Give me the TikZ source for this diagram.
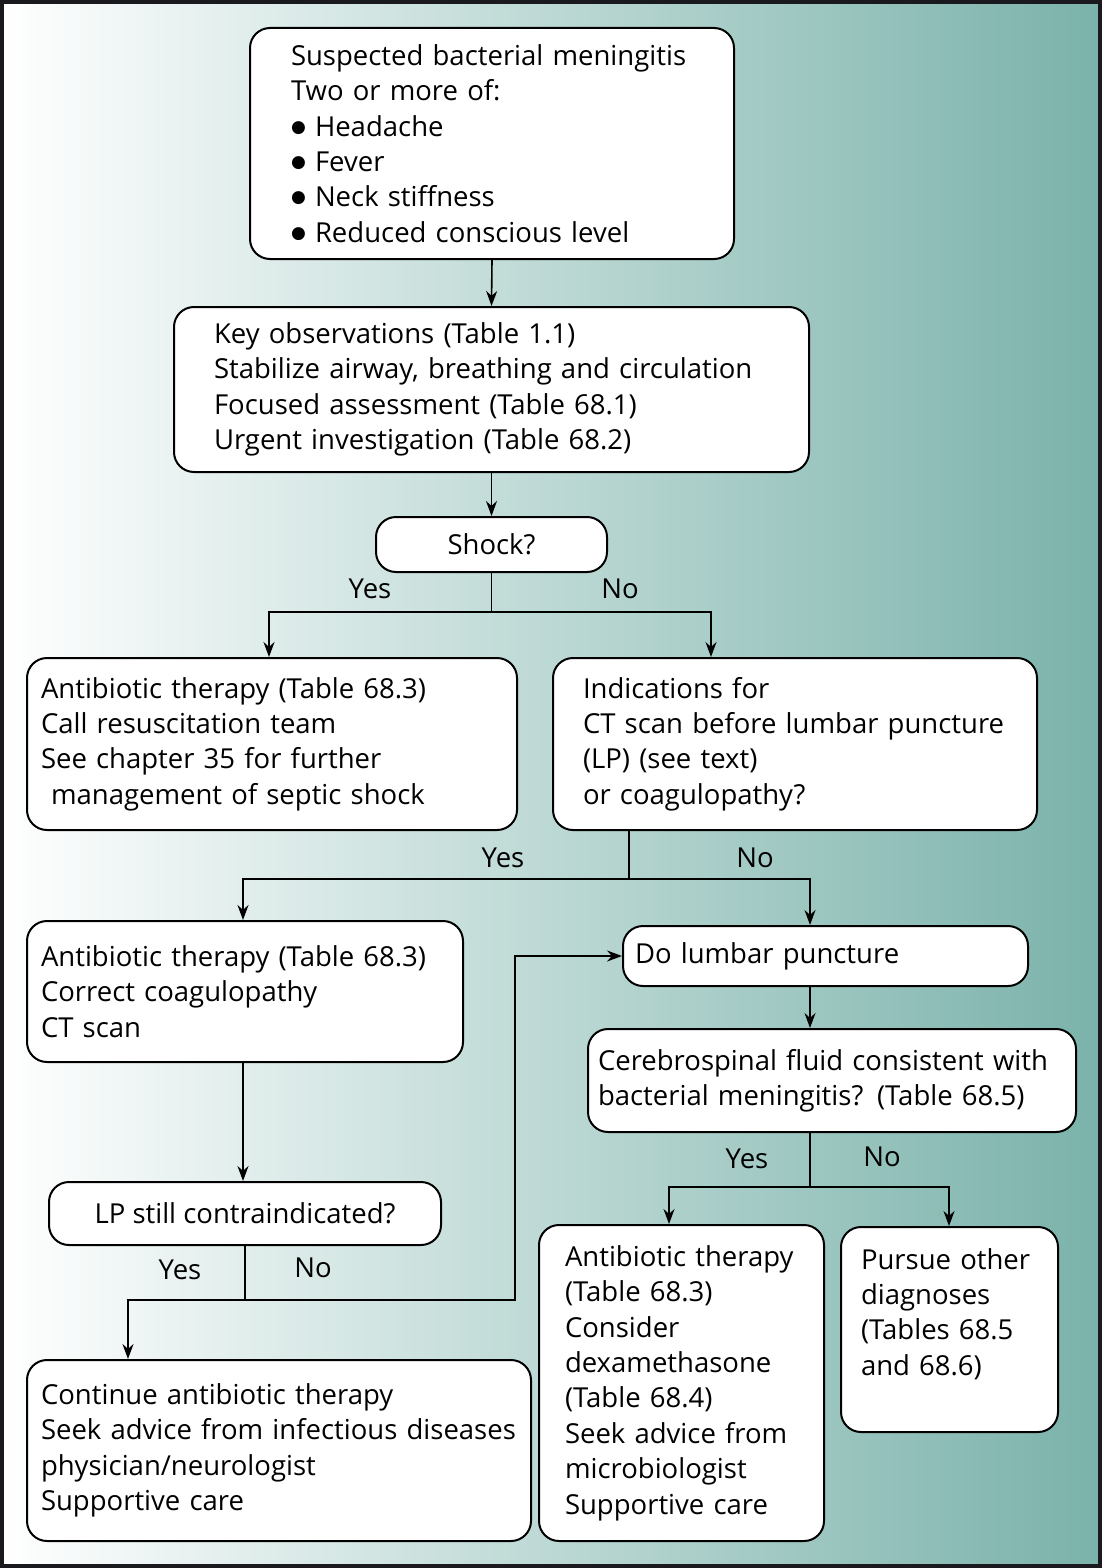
\documentclass[tikz,border=0pt]{standalone}
\usepackage{fontspec}
\setmainfont{Open Sans}
\newfontfamily\dejavu{DejaVu Sans}
\usetikzlibrary{arrows.meta,calc}
\definecolor{teal}{RGB}{122,178,170}
\definecolor{frame}{RGB}{26,26,30}
\newcommand{\bul}{\makebox[24pt][l]{\raisebox{4pt}{\dejavu\fontsize{17}{17}\selectfont ●}}}
\tikzset{
  box/.style={draw=black, line width=2pt, rounded corners=20pt, fill=white, anchor=north west,
    align=left, inner ysep=0pt, font=\fontsize{27.5}{35.4}\selectfont},
  lbl/.style={font=\fontsize{27.5}{30}\selectfont, inner sep=0pt},
  arr/.style={line width=1.6pt, -{Stealth[length=15pt,width=11pt]}},
  ln/.style={line width=1.6pt}
}
\newcommand{\bx}[8]{% name, x, y, w, h, xsep, text
  \node[box, inner xsep=#6pt, minimum width=#4pt, minimum height=#5pt, text width=\the\numexpr#4-2*#6\relax pt, #8] (#1) at (#2,-#3) {#7};}
\begin{document}
\begin{tikzpicture}[x=1pt,y=1pt]
\useasboundingbox (0,0) rectangle (1102,-1568);
\shade[left color=white, right color=teal] (0,0) rectangle (1102,-1568);
\draw[frame, line width=4pt] (2,-2) rectangle (1100,-1566);

\bx{top}{249}{27}{484}{231}{41}{Suspected bacterial meningitis\\Two or more of:\\\bul Headache\\\bul Fever\\\bul Neck stiffness\\\bul Reduced conscious level}{}
\bx{key}{173}{306}{635}{165}{40}{Key observations (Table 1.1)\\Stabilize airway, breathing and circulation\\Focused assessment (Table 68.1)\\Urgent investigation (Table 68.2)}{}
\node[box, align=center, minimum width=231pt, minimum height=55pt, inner sep=0pt] (shock) at (375,-516) {Shock?};
\bx{abx1}{26}{657}{490}{172}{14}{Antibiotic therapy (Table 68.3)\\Call resuscitation team\\See chapter 35 for further\\\hspace*{10pt}management of septic shock}{}
\bx{ind}{552}{657}{484}{172}{30}{Indications for\\CT scan before lumbar puncture\\(LP) (see text)\\or coagulopathy?}{}
\bx{abx2}{26}{920}{436}{141}{14}{Antibiotic therapy (Table 68.3)\\Correct coagulopathy\\CT scan}{}
\bx{dolp}{622}{925}{405}{60}{12}{Do lumbar puncture}{}
\node[box, align=center, minimum width=392pt, minimum height=63pt, inner sep=0pt] (still) at (48,-1181) {LP still contraindicated?};
\bx{cont}{26}{1359}{504}{181}{14}{Continue antibiotic therapy\\Seek advice from infectious diseases\\physician/neurologist\\Supportive care}{}
\bx{csf}{587}{1028}{488}{103}{10}{Cerebrospinal fluid consistent with\\bacterial meningitis? (Table 68.5)}{}
\bx{abx3}{538}{1224}{285}{316}{26}{Antibiotic therapy\\(Table 68.3)\\Consider\\dexamethasone\\(Table 68.4)\\Seek advice from\\microbiologist\\Supportive care}{}
\bx{pursue}{840}{1226}{217}{205}{20}{Pursue other\\diagnoses\\(Tables 68.5\\and 68.6)\\\mbox{}}{}

% connectors
\draw[arr] (top.south) -- (key.north);
\draw[arr] (key.south) -- (shock.north);
\coordinate (j1) at ($(shock.south)+(0,-39)$);
\draw[ln] (shock.south) -- (j1);
\draw[arr] (j1) -| ([xshift=-3pt]abx1.north);
\draw[arr] (j1) -| ([xshift=159pt]ind.north west);
\node[lbl] at (370,-589) {Yes};
\node[lbl] at (620,-589) {No};

\coordinate (j2) at (629,-879);
\draw[ln] ([xshift=77pt]ind.south west) -- (j2);
\draw[arr] (j2) -| ([xshift=217pt]abx2.north west);
\draw[arr] (j2) -| ([xshift=188pt]dolp.north west);
\node[lbl] at (503,-858) {Yes};
\node[lbl] at (755,-858) {No};

\draw[arr] ([xshift=217pt]abx2.south west) -- ([xshift=195pt]still.north west);
\coordinate (j3) at ($(still.south)+(0,-54)$);
\coordinate (k) at ($(j3)+(270,0)$);
\draw[ln] (still.south) -- (j3);
\draw[arr] (j3) -| ([xshift=102pt]cont.north west);
\draw[arr] (j3) -- (k) |- (dolp.west);
\node[lbl] at (180,-1270) {Yes};
\node[lbl] at (313,-1268) {No};

\draw[arr] ([xshift=188pt]dolp.south west) -- ([xshift=223pt]csf.north west);
\coordinate (j4) at (810,-1187);
\draw[ln] ([xshift=223pt]csf.south west) -- (j4);
\draw[arr] (j4) -| ([xshift=131pt]abx3.north west);
\draw[arr] (j4) -| ([xshift=109pt]pursue.north west);
\node[lbl] at (747,-1159) {Yes};
\node[lbl] at (882,-1157) {No};
\end{tikzpicture}
\end{document}
